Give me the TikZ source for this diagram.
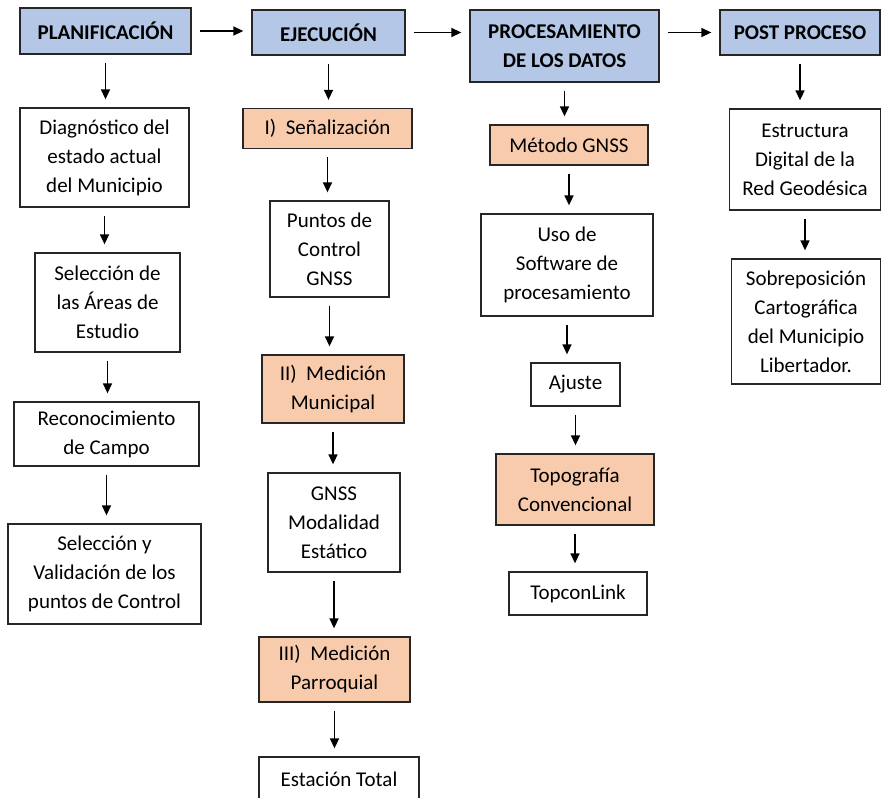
\documentclass[tikz,border=0pt]{standalone}
\usepackage{fontspec}
\setmainfont{Carlito}
\usetikzlibrary{arrows.meta}

\definecolor{headblue}{HTML}{B4C7E7}
\definecolor{subpeach}{HTML}{F8CBAD}

\begin{document}
\begin{tikzpicture}[x=1pt,y=-1pt,->,>={Triangle[length=10pt,width=9pt]},
                    line width=1.5pt,shorten >=8pt,shorten <=8pt,
                    box/.style={rectangle,draw=black!85,line width=1.3pt,align=center,
                                inner sep=2pt,font=\fontsize{21}{29}\selectfont},
                    head node/.style={box,fill=headblue,font=\fontsize{21}{29}\selectfont\bfseries},
                    sub node/.style={box,fill=subpeach},
                    main node/.style={box,fill=white}]

    \useasboundingbox (0,0) rectangle (882,797);

    % Nodes
    \node[head node,minimum width=171pt,minimum height=46pt] (plan) at (105.5,31) {PLANIFICACIÓN};
    \node[head node,minimum width=153pt,minimum height=45pt] (ejec) at (328.5,32.5) {EJECUCIÓN};
    \node[head node,minimum width=189pt,minimum height=72pt] (proc) at (564.5,46) {PROCESAMIENTO\\DE LOS DATOS};
    \node[head node,minimum width=160pt,minimum height=45pt] (post) at (800,32.5) {POST PROCESO};

    \node[main node,minimum width=169pt,minimum height=99pt] (diag) at (104.5,157.5) {Diagnóstico del\\estado actual\\del Municipio};
    \node[main node,minimum width=145pt,minimum height=99pt] (areas) at (107.5,302.5) {Selección de\\las Áreas de\\Estudio};
    \node[main node,minimum width=185pt,minimum height=64pt] (recon) at (106.5,434) {Reconocimiento\\de Campo};
    \node[main node,minimum width=193pt,minimum height=100pt] (valid) at (104.5,574) {Selección y\\Validación de los\\puntos de Control};

    \node[sub node,minimum width=169pt,minimum height=40pt] (senal) at (327.5,128.5) {I)\ \ Señalización};
    \node[main node,minimum width=119pt,minimum height=96pt] (puntos) at (329.5,249) {Puntos de\\Control\\GNSS};
    \node[sub node,minimum width=142pt,minimum height=68pt] (medmun) at (333,389) {II)\ \ Medición\\Municipal};
    \node[main node,minimum width=132pt,minimum height=99pt] (gnss) at (334,522.5) {GNSS\\Modalidad\\Estático};
    \node[sub node,minimum width=151pt,minimum height=65pt] (medpar) at (334.5,669.5) {III)\ \ Medición\\Parroquial};
    \node[main node,minimum width=160pt,minimum height=44pt] (estac) at (339,779) {Estación Total};

    \node[sub node,minimum width=158pt,minimum height=40pt] (metodo) at (569,145) {Método GNSS};
    \node[main node,minimum width=172pt,minimum height=102pt] (soft) at (567,265) {Uso de\\Software de\\procesamiento};
    \node[main node,minimum width=89pt,minimum height=43pt] (ajuste) at (575.5,384.5) {Ajuste};
    \node[sub node,minimum width=158pt,minimum height=71pt] (topo) at (575,489.5) {Topografía\\Convencional};
    \node[main node,minimum width=138pt,minimum height=43pt] (topcon) at (578,593.5) {TopconLink};

    \node[main node,minimum width=151pt,minimum height=101pt] (estruc) at (805,159.5) {Estructura\\Digital de la\\Red Geodésica};
    \node[main node,minimum width=149pt,minimum height=125pt] (sobre) at (806,321.5) {Sobreposición\\Cartográfica\\del Municipio\\Libertador.};

    % Paths
    \path
      (plan.east) edge (plan.east -| ejec.west)
      (ejec.east) edge (ejec.east -| proc.west)
      (proc.east |- post.west) edge (post.west);

    \path
      (plan.south) edge (plan.south |- diag.north)
      (diag.south) edge (diag.south |- areas.north)
      (areas.south) edge (areas.south |- recon.north)
      (recon.south) edge (recon.south |- valid.north);

    \path
      (ejec.south) edge (ejec.south |- senal.north)
      (senal.south) edge (senal.south |- puntos.north)
      (puntos.south) edge (puntos.south |- medmun.north)
      (medmun.south) edge (medmun.south |- gnss.north)
      (gnss.south) edge (gnss.south |- medpar.north)
      (medpar.south) edge (medpar.south |- estac.north);

    \path
      (proc.south) edge (proc.south |- metodo.north)
      (metodo.south) edge (metodo.south |- soft.north)
      (soft.south) edge (soft.south |- ajuste.north)
      (ajuste.south) edge (ajuste.south |- topo.north)
      (topo.south) edge (topo.south |- topcon.north);

    \path
      (post.south) edge (post.south |- estruc.north)
      (estruc.south) edge (estruc.south |- sobre.north);

  \end{tikzpicture}
\end{document}
